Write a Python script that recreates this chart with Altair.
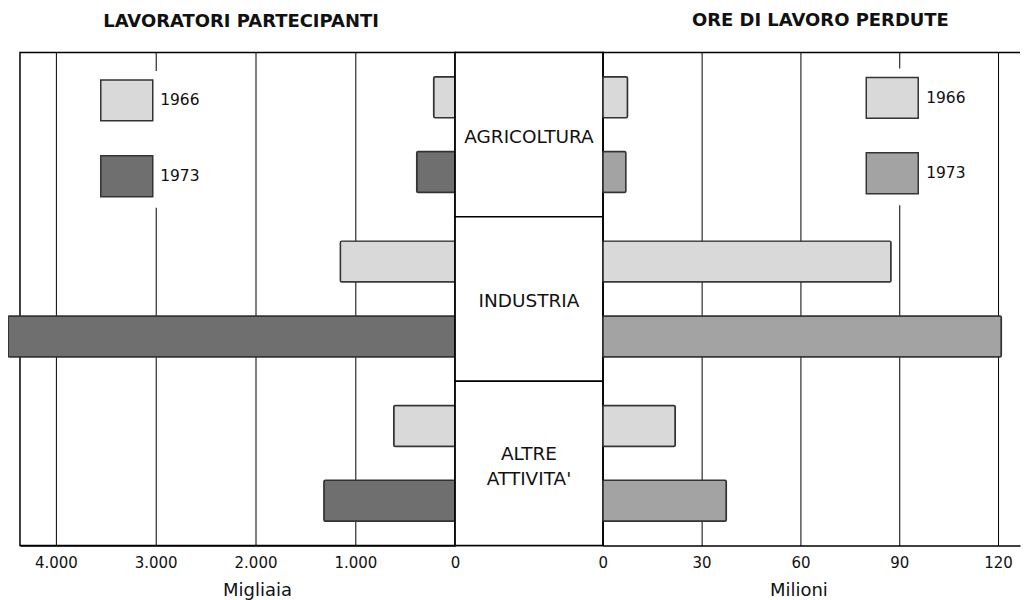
import altair as alt
import pandas as pd

# ---------------- data ----------------
categories = ["AGRICOLTURA", "INDUSTRIA", "ALTRE ATTIVITA'"]
category_labels = ["AGRICOLTURA", "INDUSTRIA", "ALTRE\nATTIVITA'"]
years = ["1966", "1973"]

# Lavoratori partecipanti (migliaia)
workers_1966 = [215, 1150, 615]
workers_1973 = [385, 4480, 1315]

# Ore di lavoro perdute (milioni)
hours_1966 = [7.5, 87.5, 22]
hours_1973 = [7.0, 121, 37.5]

workers_ticks = [0, 1000, 2000, 3000, 4000]
hours_ticks = [0, 30, 60, 90, 120]

title_left = "LAVORATORI PARTECIPANTI"
title_right = "ORE DI LAVORO PERDUTE"
axis_title_left = "Migliaia"
axis_title_right = "Milioni"

# ---------------- layout / style ----------------
LEFT_W, MID_W, RIGHT_W, H = 436, 148, 418, 494
LIGHT = "#d9d9d9"
DARK = "#6f6f6f"
MEDIUM = "#a3a3a3"
INK = "#111111"
FONT = "DejaVu Sans"
SYMBOL = "M-1.27,-1H1.27V1H-1.27Z"


def long_table(v66, v73):
    rows = []
    for c, a, b in zip(categories, v66, v73):
        rows.append({"categoria": c, "anno": "1966", "valore": a})
        rows.append({"categoria": c, "anno": "1973", "valore": b})
    return pd.DataFrame(rows)


workers_df = long_table(workers_1966, workers_1973)
hours_df = long_table(hours_1966, hours_1973)
mid_df = pd.DataFrame({"categoria": categories, "etichetta": category_labels})

y_enc = alt.Y(
    "categoria:N",
    sort=categories,
    axis=None,
    scale=alt.Scale(domain=categories, paddingInner=0, paddingOuter=0),
)
yoff_enc = alt.YOffset(
    "anno:N",
    sort=years,
    scale=alt.Scale(domain=years, paddingInner=0.453, paddingOuter=0.3245),
)


def legend(x, y, offset, row_pad):
    return alt.Legend(
        title=None,
        orient="none",
        legendX=x,
        legendY=y,
        direction="vertical",
        symbolType=SYMBOL,
        symbolSize=1681,
        symbolStrokeColor="#333333",
        symbolStrokeWidth=1.5,
        symbolOpacity=1,
        labelFont=FONT,
        labelFontSize=15.5,
        labelColor=INK,
        labelOffset=offset,
        rowPadding=row_pad,
        padding=8,
        fillColor="white",
    )


bar_style = dict(stroke="#333333", strokeWidth=1.5, cornerRadius=1.5)

left = (
    alt.Chart(workers_df)
    .mark_bar(**bar_style)
    .encode(
        x=alt.X(
            "valore:Q",
            scale=alt.Scale(domain=[0, 4360], reverse=True, nice=False, zero=True),
            axis=alt.Axis(
                values=workers_ticks,
                labelExpr="replace(format(datum.value, ','), ',', '.')",
                title=axis_title_left,
                titleX=237.5,
            ),
        ),
        y=y_enc,
        yOffset=yoff_enc,
        color=alt.Color(
            "anno:N",
            sort=years,
            scale=alt.Scale(domain=years, range=[LIGHT, DARK]),
            legend=legend(77.5, 18.5, 12, 29),
        ),
    )
    .properties(
        width=LEFT_W,
        height=H,
        title=alt.TitleParams(
            text=title_left, font=FONT, fontSize=18, fontWeight="bold",
            color=INK, anchor="middle", frame="group", offset=22, dx=3.5,
        ),
    )
)

mid_base = alt.Chart(mid_df).encode(y=y_enc)
cells = mid_base.mark_rect(fill="white", stroke="black", strokeWidth=1.5)
text_style = dict(font=FONT, fontSize=18.5, color=INK, lineBreak="\n", lineHeight=25)
texts_single = (
    mid_base.mark_text(dy=2, **text_style)
    .encode(text="etichetta:N")
    .transform_filter("indexof(datum.etichetta, '\\n') < 0")
)
texts_multi = (
    mid_base.mark_text(dy=-9, **text_style)
    .encode(text="etichetta:N")
    .transform_filter("indexof(datum.etichetta, '\\n') >= 0")
)
middle = alt.layer(cells, texts_single, texts_multi).properties(width=MID_W, height=H)

right_bars = (
    alt.Chart(hours_df)
    .mark_bar(**bar_style)
    .encode(
        x=alt.X(
            "valore:Q",
            scale=alt.Scale(domain=[0, RIGHT_W / 3.3], nice=False, zero=True),
            axis=alt.Axis(values=hours_ticks, title=axis_title_right, titleX=196),
        ),
        y=y_enc,
        yOffset=yoff_enc,
        color=alt.Color(
            "anno:N",
            sort=years,
            scale=alt.Scale(domain=years, range=[LIGHT, MEDIUM]),
            legend=legend(260.5, 16, 12.5, 28.5),
        ),
    )
)
top_line = (
    alt.Chart(pd.DataFrame({"k": [0]}))
    .mark_rule(color="black", strokeWidth=1.5)
    .encode(x=alt.value(0), x2=alt.value(RIGHT_W), y=alt.value(0))
)
right = alt.layer(right_bars, top_line).properties(
    width=RIGHT_W,
    height=H,
    view=alt.ViewBackground(stroke="transparent"),
    title=alt.TitleParams(
        text=title_right, font=FONT, fontSize=18, fontWeight="bold",
        color=INK, anchor="middle", frame="group", offset=22, dx=9,
    ),
)

chart = (
    alt.hconcat(left, middle, right, spacing=0, bounds="flush")
    .resolve_scale(x="independent", color="independent", y="shared")
    .properties(padding={"left": -2, "top": 2, "right": 0, "bottom": 2})
    .configure_view(stroke="black", strokeWidth=1.5)
    .configure_axis(
        domainColor="black",
        domainWidth=1.5,
        grid=True,
        gridColor="black",
        gridWidth=1,
        gridOpacity=1,
        ticks=False,
        labelFont=FONT,
        labelFontSize=15,
        labelColor=INK,
        labelPadding=10,
        labelFlush=False,
        titleFont=FONT,
        titleFontSize=18,
        titleFontWeight="normal",
        titleColor=INK,
        titlePadding=11,
    )
)

chart.save("out.html", embed_options={"renderer": "svg", "actions": False})
